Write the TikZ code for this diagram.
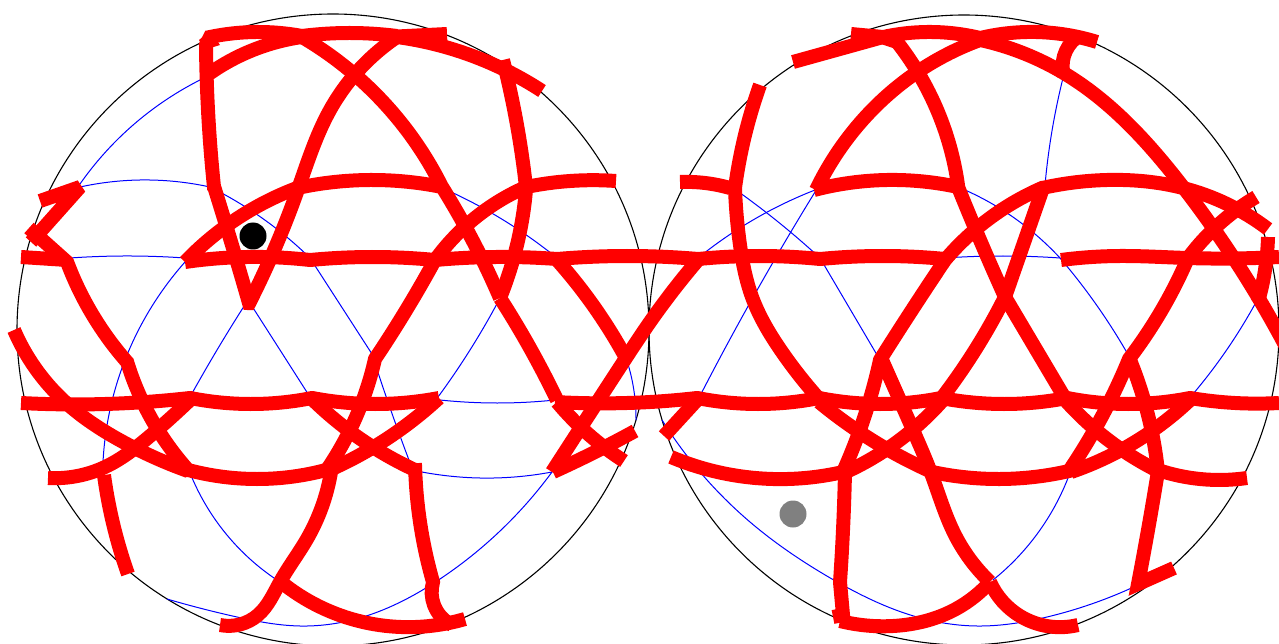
\documentclass[tikz,border=0pt]{standalone}
\usetikzlibrary{hobby}
\tikzset{
  rim/.style={draw=black,line width=1.1pt},
  grid/.style={draw=blue,line width=1pt,use Hobby shortcut},
  band/.style={draw=red,line width=14pt,line join=miter,miter limit=2.5,use Hobby shortcut},
}
\begin{document}
\begin{tikzpicture}[x=1pt,y=-1pt]
\useasboundingbox (0,0) rectangle (1279,644);
\clip (0,0) rectangle (1279,644);
\draw[rim] (333,330) circle (316);
\draw[rim] (964,330) circle (315);
% blue, left
\draw[grid] (204,78)..(117,140)..(80,184);
\draw[grid] (80,187)..(140,180)..(210,187);
\draw[grid] (210,187)..(262,218)..(310,258);
\draw[grid] (310,258) -- (372,354);
\draw[grid] (372,354)..(395,422)..(412,468);
\draw[grid] (70,258)..(123,256)..(185,258);
\draw[grid] (185,262)..(127,355)..(103,462);
\draw[grid] (248,300)..(220,345)..(190,397);
\draw[grid] (248,300)..(280,350)..(310,397);
\draw[grid] (187,465)..(233,542)..(280,582);
\draw[grid] (167,599)..(237,617)..(300,626)..(363,617)..(440,579)..(552,472);
\draw[grid] (412,470)..(480,478)..(552,472);
\draw[grid] (438,397)..(470,350)..(499,300);
\draw[grid] (440,400)..(497,403)..(555,400);
\draw[grid] (440,187)..(500,218)..(557,258);
\draw[grid] (625,355)..(633,385)..(636,420);
% blue, right
\draw[grid] (736,190)..(788,230)..(820,258);
\draw[grid] (820,258) -- (880,360);
\draw[grid] (815,190)..(760,216)..(698,258);
\draw[grid] (815,192)..(760,285)..(702,392);
\draw[grid] (662,420)..(750,522)..(832,579)..(917,617)..(977,626)..(1047,617)..(1138,585);
\draw[grid] (1071,470)..(1040,530)..(993,580);
\draw[grid] (1193,394)..(1230,345)..(1255,304);
\draw[grid] (1063,78)..(1053,125)..(1045,185);
\draw[grid] (958,187)..(1010,215)..(1060,258);
\draw[grid] (1060,258)..(1100,310)..(1130,358);
\draw[grid] (945,258)..(1003,256)..(1060,258);
% red, left
\fill[red] (199,40) -- (210,31) -- (220,45) -- (204,50) -- cycle;
\draw[band] (447,34)..(397,36.5);
\draw[band] (397,36)..(350,33)..(302,36);
\draw[band] (302,36)..(256,32)..(210,37)--(206,45)..(208,110)..(214,187)--(214.3,187.3)..(232,245)..(249,303)--(249.3,303)..(297,192)..(330,110)..(397,37);
\draw[band] (206,76)..(253,50)..(302,37);
\draw[band] (302,37)..(393,113)..(442,187)--(442.3,187.3)..(475,245)..(500,298);
\draw[band] (397,37)..(470,55)..(542,91);
\draw[band] (503,60)..(517,125)..(526,187)--(526.2,187.3)..(517,245)..(500,298);
\draw[band] (500,298)..(530,348)..(557,400);
\draw[band] (557,402)..(587,433)..(624,461);
\draw[band] (21,257)..(67,260);
\draw[band] (40,201)--(80,187)--(31,242);
\draw[band] (29,228)--(67,262)--(67.2,262.3)..(97,322)..(127,362)--(127.2,362.2)..(155,425)..(188,470)--(188.2,470)..(257,479)..(326,470);
\draw[band] (326,471)..(350,430)..(375,359)--(375.1,358.8)..(405,312)..(435,260)--(435.2,259.9)..(475,218)..(526,187)--(526.3,187)..(570,181)..(616,181);
\draw[band] (185,262)..(232,222)..(297,188)--(297.3,188)..(370,180)..(442,187);
\draw[band] (185,262)..(247,257)..(310,260)--(310.3,260)..(372,257)..(435,260)--(435.3,260)..(496,257)..(557,259)--(557.3,259)..(627,256)..(698,259)--(698.3,259)..(759,256)..(820,259)--(820.3,259)..(882,256)..(945,259);
\draw[band] (557,260)..(595,308)..(627,360);
\draw[band] (698,260)..(650,322)..(622,364)..(552,472);
\draw[band] (553,472)..(595,452)..(635,431);
\draw[band] (21,403)..(105,404)..(190,398)--(190.3,398)..(250,404)..(312,398)--(312.3,398)..(375,404)..(439,398);
\draw[band] (439,398)..(385,440)..(325,472);
\draw[band] (190,400)..(150,436)..(105,467)..(48,478);
\draw[band] (14,330)..(63,400)..(125,443)..(188,471);
\draw[band] (312,399)..(365,442)..(415,470)--(415.2,470)..(420,522)..(433,582)--(433,582.2)..(434,605)..(452,625);
\draw[band] (331,472)..(307,539)..(280,582)..(258,615)..(220,625);
\draw[band] (281,582)..(363,622)..(465,619);
\draw[band] (104,475)..(112,519)..(128,574);
% red, middle and right
\draw[band] (555,402)..(627,403)..(697,398)--(697.3,398)..(758,404)..(819,398)--(819.3,398)..(880,404)..(941,398)--(941.3,398)..(1004,404)..(1067,398)--(1067.3,398)..(1128,404)..(1190,398)--(1190.3,398)..(1235,403)..(1279,403);
\draw[band] (697,400)--(664,436);
\draw[band] (671,457)..(773,479)..(843,472)--(843.1,471.8)..(865,415)..(880,360)--(880.1,359.8)..(912,310)..(945,260)--(945.2,259.8)..(990,218)..(1042,188)--(1042.3,188)..(1107,180)..(1183,188)..(1268,229);
\draw[band] (845,472)..(843,530)..(840,582)--(840,582.2)..(843,615)--(833,617);
\draw[band] (840,621)..(893,626)..(950,612)..(990,582);
\draw[band] (990,582)..(1020,616)..(1078,625);
\draw[band] (882,360)..(913,430)..(931,473)..(955,535)..(990,582);
\draw[band] (819,402)..(875,442)..(932,472)--(932.2,472)..(1000,479)..(1069,471)--(1069.1,470.8)..(1100,420)..(1129,359)--(1129.1,358.8)..(1160,313)..(1188,258)--(1188.2,257.8)..(1218,225)..(1256,197);
\draw[band] (1190,400)..(1135,442)..(1071,472);
\draw[band] (943,400)..(890,447)..(846,472);
\draw[band] (1066,401)..(1115,445)..(1158,471)--(1158,471.2)..(1148,530)..(1138,584)--(1174,568);
\draw[band] (1158,470)..(1200,479)..(1247,478);
\draw[band] (1130,360)..(1148,415)..(1158,472);
\draw[band] (1066,400)--(1005,297)--(1043,188);
\draw[band] (1005,297)..(980,240)..(958,187)--(958.2,186.8)..(940,117)..(897,42)--(882,37);
\draw[band] (1005,297)..(970,358)..(941,399);
\draw[band] (760,85)..(745,135)..(735,188)--(735,188.2)..(740,245)..(752,297)..(782,352)..(820,400);
\draw[band] (680,182)..(705,183)..(730,188);
\draw[band] (793,62)--(883,37);
\draw[band] (851,34)--(883,37)--(883.3,37)..(927,32)..(980,38)--(980.3,38)..(1027,32)..(1097,42);
\draw[band] (816,190)..(860,123)..(913,75)..(980,40)--(980.3,40)..(1067,75)..(1183,187)..(1285,345);
\draw[band] (1064,76)..(1064,56)..(1076,38);
\draw[band] (814,190)..(887,180)..(958,187);
\draw[band] (1061,260)..(1120,256)..(1187,258)..(1279,257);
\draw[band] (1268,237)..(1265,270)..(1258,302);
% markers
\fill[black] (253,236) circle (13.5);
\fill[gray] (793,514) circle (13.5);
\end{tikzpicture}
\end{document}
